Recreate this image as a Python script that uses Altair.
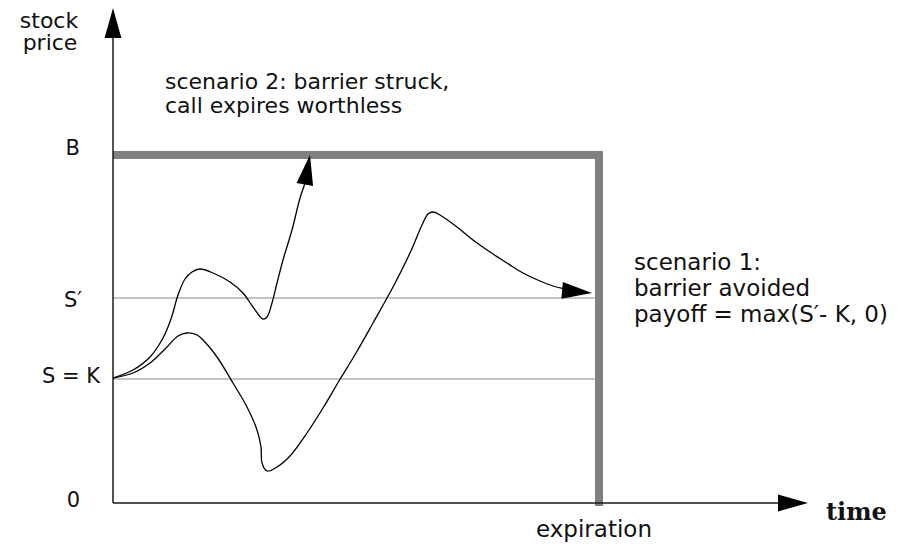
import altair as alt
import pandas as pd

# ---- data (diagram units: time / price measured from the axis origin) ----
# scenario 2 path: rises, dips, then shoots up to the barrier
s2_t = [0, 20, 37, 50, 58, 65, 72, 79, 87, 100, 117, 130, 140, 150, 154, 159, 164, 170, 179, 187, 192, 194]
s2_p = [125, 133, 146, 165, 184, 208, 224, 231, 234, 230, 221, 210, 196, 184, 186, 200, 220, 243, 273, 305, 320, 328]
# scenario 1 path: rises, falls deep, recovers, ends at S' at expiration
s1_t = [0, 20, 37, 54, 65, 74, 84, 90, 104, 120, 134, 144, 148, 149, 154, 164, 177, 194, 210, 226, 243, 260,
        280, 297, 309, 315, 320, 327, 344, 360, 377, 394, 410, 427, 440, 452, 462]
s1_p = [125, 130, 140, 156, 167, 170, 168, 163, 146, 120, 96, 73, 56, 40, 32, 36, 47, 70, 95, 122, 150, 180,
        216, 250, 278, 289, 291, 288, 276, 263, 251, 240, 230, 222, 217, 214, 212]

level_names = ["S′", "S = K"]
level_p = [205, 124]
barrier_p = 348
expiry_t = 486
x_axis_end = 685
y_axis_end = 470

arrow_t = [197, 479, 0, 695]
arrow_p = [348, 210, 495, 0]
arrow_angle = [10, 95, 0, 90]

XS = alt.Scale(domain=[-105, 795], nice=False, zero=False)
YS = alt.Scale(domain=[-41, 495], nice=False, zero=False)
FONT = "DejaVu Sans"


def X():
    return alt.X("t:Q", scale=XS, axis=None)


def Y():
    return alt.Y("p:Q", scale=YS, axis=None)


def path(ts, ps, color, width, interp="catmull-rom"):
    df = pd.DataFrame({"t": ts, "p": ps, "i": range(len(ts))})
    return alt.Chart(df).mark_line(
        color=color, strokeWidth=width, interpolate=interp, strokeCap="butt", strokeJoin="miter"
    ).encode(x=X(), y=Y(), order="i:Q")


layers = []
# horizontal reference levels S' and S = K
for lp in level_p:
    layers.append(path([0, expiry_t - 2], [lp, lp], "#c4c4c4", 2, "linear"))
# barrier + expiration line
layers.append(path([0, expiry_t, expiry_t], [barrier_p, barrier_p, -3], "#808080", 8, "linear"))
# axes
layers.append(path([0, x_axis_end], [0, 0], "#1a1a1a", 1.5, "linear"))
layers.append(path([0, 0], [0, y_axis_end], "#1a1a1a", 1.5, "linear"))
# price paths
layers.append(path(s2_t, s2_p, "black", 1.3))
layers.append(path(s1_t, s1_p, "black", 1.3))

# arrowheads (tip at the point, pointing up before rotation)
ARROW = "M0,0 L0.28,1 L-0.28,1 Z"
adf = pd.DataFrame({"t": arrow_t, "p": arrow_p, "a": arrow_angle})
layers.append(
    alt.Chart(adf).mark_point(shape=ARROW, size=3600, filled=True, color="black", opacity=1, strokeWidth=0)
    .encode(x=X(), y=Y(), angle=alt.Angle("a:Q", scale=None))
)


def texts(labels, ts, ps, align, size=22, font=FONT, weight="normal"):
    df = pd.DataFrame({"label": labels, "t": ts, "p": ps})
    return alt.Chart(df).mark_text(
        align=align, baseline="alphabetic", font=font, fontSize=size, fontWeight=weight, color="#111111"
    ).encode(x=X(), y=Y(), text="label:N")


s2_labels = ["scenario 2: barrier  struck,", "call expires worthless"]
s2_lt = [52, 52]
s2_lp = [414, 390]
s1_labels = ["scenario 1:", "barrier avoided", "payoff = max(S′- K, 0)"]
s1_lt = [521, 521, 521]
s1_lp = [233, 207, 181]
right_labels = ["B", level_names[0], level_names[1], "0"]
right_t = [-33, -31, -13, -33]
right_p = [348, 196, 120, -4]
axis_labels = ["stock", "price"]
axis_lt = [-64, -63]
axis_lp = [475, 453]

layers.append(texts(s2_labels, s2_lt, s2_lp, "left"))
layers.append(texts(s1_labels, s1_lt, s1_lp, "left", size=23))
layers.append(texts(right_labels, right_t, right_p, "right", size=21))
layers.append(texts(axis_labels, axis_lt, axis_lp, "center", size=22))
layers.append(texts(["expiration"], [481], [-34], "center", size=23))
layers.append(texts(["time"], [713], [-17], "left", size=24, font="DejaVu Serif", weight="bold"))

chart = alt.layer(*layers).properties(
    width=900, height=536, padding=0, autosize=alt.AutoSizeParams(type="none"), background="white"
).configure_view(stroke=None)

chart.save("out.html", embed_options={"renderer": "svg", "actions": False})
